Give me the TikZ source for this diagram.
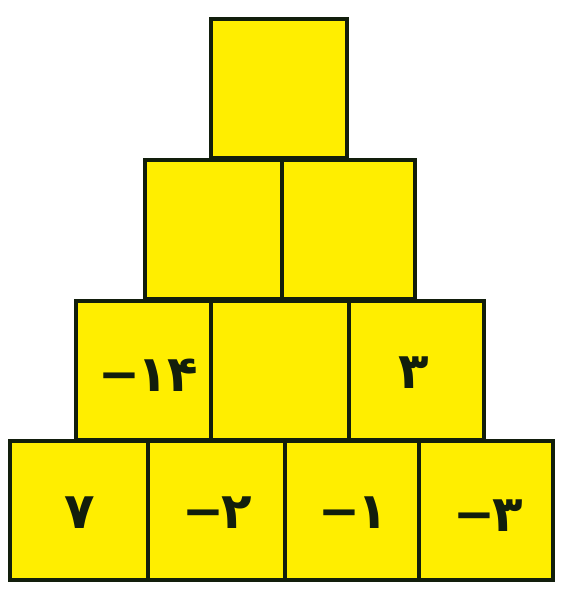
\documentclass[tikz,border=0pt]{standalone}
\usepackage{fontspec}
\newfontfamily\digitfont{DejaVu Sans}
\definecolor{boxfill}{RGB}{255,238,0}
\definecolor{boxline}{RGB}{18,30,12}
\newcommand{\mns}{−\kern-3pt}
\tikzset{
  cell/.style={draw=boxline, fill=boxfill, line width=4pt, minimum width=136pt, minimum height=139pt, inner sep=0pt, outer sep=0pt, anchor=north west},
  num/.style={font=\digitfont\bfseries\fontsize{50}{54}\selectfont, text=boxline, inner sep=0pt}
}
\begin{document}
\begin{tikzpicture}[x=1pt,y=-1pt]
\useasboundingbox (0,0) rectangle (560,592);
\fill[white] (0,0) rectangle (560,592);
% row 1
\node[cell] (t) at (211,19) {};
% row 2
\node[cell, minimum width=137pt] (r2a) at (145,160) {};
\node[cell, minimum width=133pt] (r2b) at (282,160) {};
% row 3
\node[cell, minimum width=135pt] (r3a) at (76,301) {};
\node[cell, minimum width=138pt] (r3b) at (211,301) {};
\node[cell, minimum width=135pt] (r3c) at (349,301) {};
% row 4
\node[cell, minimum width=138pt] (r4a) at (10,441) {};
\node[cell, minimum width=137pt] (r4b) at (148,441) {};
\node[cell, minimum width=134pt] (r4c) at (285,441) {};
\node[cell, minimum width=134pt] (r4d) at (419,441) {};
% numbers
\node[num] (n1) at ([xshift=5pt,yshift=-5pt]r3a.center) {\mns۱۴};
\node[num] (n2) at ([xshift=-3pt,yshift=-2pt]r3c.center) {۳};
\node[num] (n3) at ([xshift=1pt,yshift=-2pt]r4a.center) {۷};
\node[num] (n4) at ([xshift=1pt,yshift=-2pt]r4b.center) {\mns۲};
\node[num] (n5) at ([xshift=1pt,yshift=-2pt]r4c.center) {\mns۱};
\node[num] (n6) at ([xshift=2pt,yshift=-5pt]r4d.center) {\mns۳};
\end{tikzpicture}
\end{document}
